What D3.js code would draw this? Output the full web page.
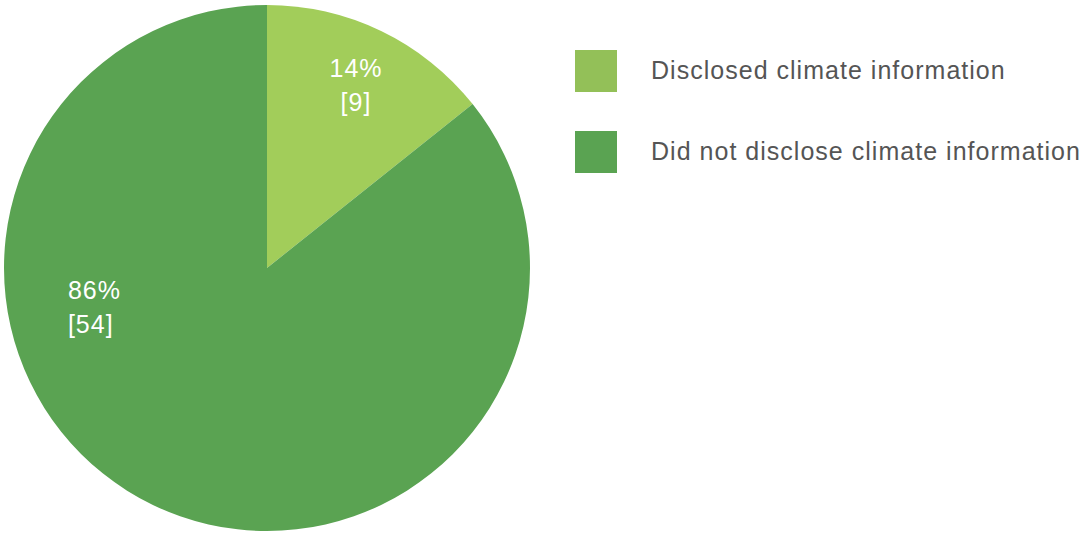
<html>
  <head>
    <script src="https://d3js.org/d3.v7.min.js"></script>
    <style>
      body { margin: 0; background: #fff; }
      text { font-family: "Liberation Sans", Arial, sans-serif; }
    </style>
  </head>
  <body>
    <svg width="1084" height="533" id="chart"></svg>
  </body>
  <script type="text/javascript">
    var categories = ["Disclosed climate information", "Did not disclose climate information"];
    var counts = [9, 54];
    var percents = ["14%", "86%"];
    var pieColors = ["#a2cd5a", "#5aa352"];
    var legendColors = ["#93c058", "#5aa352"];

    var data = categories.map(function(c, i) {
      return { name: c, value: counts[i], pct: percents[i], color: pieColors[i], legend: legendColors[i] };
    });

    var cx = 267, cy = 268, radius = 263;
    var svg = d3.select("#chart");

    var pie = d3.pie().sort(null).value(function(d){ return d.value; });
    var arc = d3.arc().innerRadius(0).outerRadius(radius);
    var arcs = pie(data);

    var g = svg.append("g").attr("transform", "translate(" + cx + "," + cy + ")");

    g.selectAll("path").data(arcs).enter().append("path")
      .attr("d", arc)
      .attr("fill", function(d){ return d.data.color; });

    // label spots: small slice on its centroid, big slice pushed to the left side
    var labelArc = d3.arc().innerRadius(radius * 0.78).outerRadius(radius * 0.78);
    function labelPos(d, i) {
      if (i === 0) return labelArc.centroid(d);
      var a = 259.5 * Math.PI / 180, r = radius * 0.77;
      return [Math.sin(a) * r, -Math.cos(a) * r];
    }

    var labels = g.selectAll("g.lbl").data(arcs).enter().append("g")
      .attr("class", "lbl")
      .attr("transform", function(d, i){ var p = labelPos(d, i); return "translate(" + p[0] + "," + p[1] + ")"; });

    labels.append("text")
      .attr("text-anchor", function(d, i){ return i === 0 ? "middle" : "start"; })
      .attr("y", -6)
      .attr("fill", "#fff")
      .style("font-size", "25px")
      .style("letter-spacing", "1px")
      .text(function(d){ return d.data.pct; });

    labels.append("text")
      .attr("text-anchor", function(d, i){ return i === 0 ? "middle" : "start"; })
      .attr("y", 28)
      .attr("fill", "#fff")
      .style("font-size", "25px")
      .style("letter-spacing", "1px")
      .text(function(d){ return "[" + d.data.value + "]"; });

    // legend
    var legend = svg.append("g").attr("transform", "translate(575,50)");
    var item = legend.selectAll("g").data(data).enter().append("g")
      .attr("transform", function(d, i){ return "translate(0," + (i * 81) + ")"; });

    item.append("rect")
      .attr("width", 42).attr("height", 42)
      .attr("fill", function(d){ return d.legend; });

    item.append("text")
      .attr("x", 76).attr("y", 29)
      .attr("fill", "#555")
      .style("font-size", "25px")
      .style("letter-spacing", "1.02px")
      .text(function(d){ return d.name; });
  </script>
</html>
